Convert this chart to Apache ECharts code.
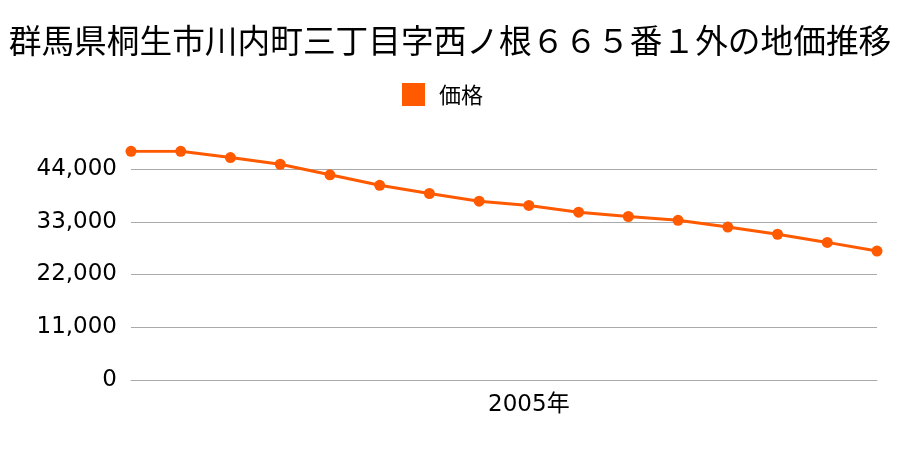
<!DOCTYPE html>
<html><head><meta charset="utf-8">
<script src="https://cdn.jsdelivr.net/npm/echarts@6/dist/echarts.min.js"></script>
<style>html,body{margin:0;padding:0;background:#fff}#c{width:900px;height:450px}</style>
</head><body><div id="c"></div>
<script>
const titleText = '群馬県桐生市川内町三丁目字西ノ根６６５番１外の地価推移';
const seriesName = '価格';
const years = ['1997','1998','1999','2000','2001','2002','2003','2004','2005','2006','2007','2008','2009','2010','2011','2012'];
const prices = [47700,47700,46400,45000,42800,40600,38900,37300,36400,35000,34100,33300,31900,30400,28700,26900];
const yTicks = [0,11000,22000,33000,44000];
const shownLabel = '2005';

const chart = echarts.init(document.getElementById('c'));
chart.setOption({
  animation:false,
  title:{text:titleText,left:'center',top:19,textStyle:{fontSize:32.7,fontWeight:'normal',color:'#000',fontFamily:'Noto Sans CJK JP'}},
  legend:{data:[seriesName],top:78,left:397,itemWidth:23,itemHeight:23,itemGap:10,icon:'rect',
    textStyle:{fontSize:22,color:'#000',fontFamily:'Noto Sans CJK JP',padding:[0,0,0,9]}},
  grid:{left:131,right:23,top:151.3,bottom:70},
  xAxis:{type:'category',data:years,boundaryGap:false,
    axisLine:{lineStyle:{color:'#aaa'}},axisTick:{show:false},
    axisLabel:{interval:0,formatter:v=>v===shownLabel?v+'年':'',fontSize:23,color:'#000',margin:14,fontFamily:'DejaVu Sans, Noto Sans CJK JP'}},
  yAxis:{type:'value',min:0,max:prices[0],interval:11000,
    axisLine:{show:false},axisTick:{show:false},
    splitLine:{lineStyle:{color:'#aaa'},showMaxLine:false},
    axisLabel:{fontSize:23,color:'#000',margin:14,showMaxLabel:false,fontFamily:'DejaVu Sans',
      formatter:v=>yTicks.includes(v)?v.toLocaleString('en-US'):''}},
  series:[{name:seriesName,type:'line',data:prices,symbol:'circle',symbolSize:11,
    itemStyle:{color:'#ff5a00'},lineStyle:{color:'#ff5a00',width:3}}]
});
</script></body></html>
